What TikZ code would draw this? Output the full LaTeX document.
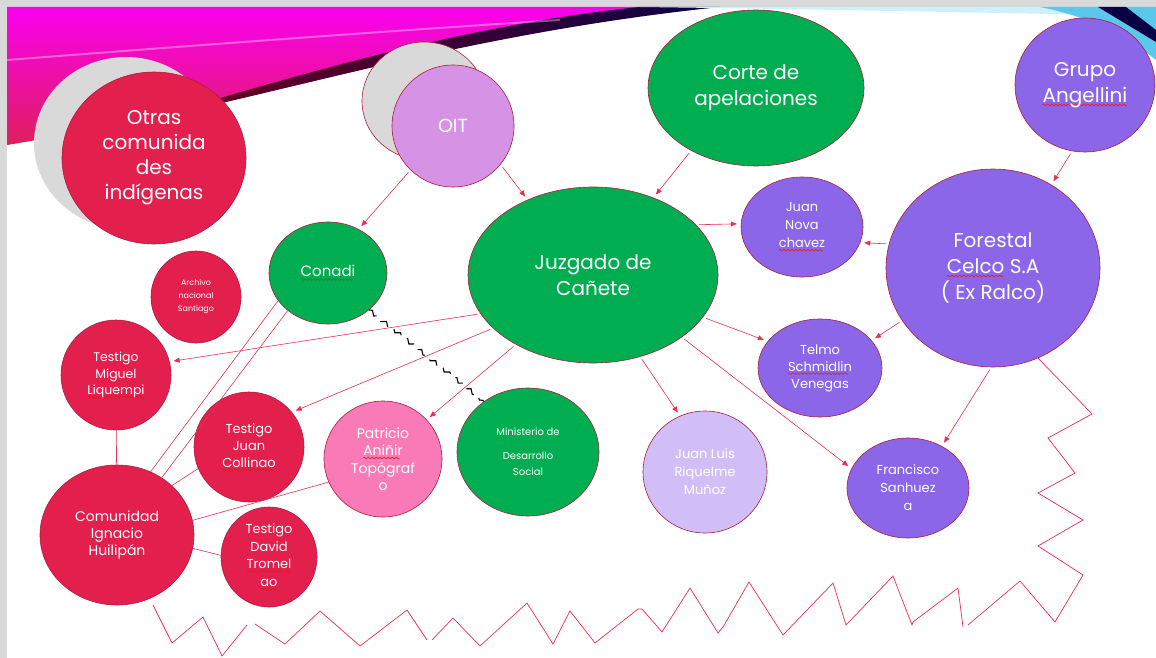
\documentclass[tikz,border=0pt]{standalone}
\usepackage{fontspec}
\setmainfont{Poppins}
\usetikzlibrary{arrows.meta,shapes.geometric,decorations.pathmorphing}

\definecolor{crimson}{RGB}{227,31,78}
\definecolor{leafgreen}{RGB}{0,173,80}
\definecolor{mauve}{RGB}{139,102,232}
\definecolor{orchid}{RGB}{214,146,228}
\definecolor{rosa}{RGB}{248,122,182}
\definecolor{lavanda}{RGB}{210,190,246}
\definecolor{sombra}{RGB}{217,217,217}
\definecolor{borde}{RGB}{170,30,60}
\definecolor{flecha}{RGB}{232,48,82}
\definecolor{spellred}{RGB}{235,20,20}
\definecolor{bannerpink}{RGB}{250,0,240}
\definecolor{bannerred}{RGB}{222,32,92}
\definecolor{bandred}{RGB}{110,0,30}
\definecolor{bandnavy}{RGB}{10,0,70}
\definecolor{skyband}{RGB}{205,240,250}
\definecolor{skycorner}{RGB}{90,200,235}

\newsavebox\wavebox
\newsavebox\wordbox
\newcommand\spell[1]{\sbox\wordbox{#1}\rlap{\raisebox{-3.5pt}{\hbox to\wd\wordbox{\leaders\copy\wavebox\hfill}}}\usebox\wordbox}
\newcommand\tsize[2]{\fontsize{#1}{#2}\selectfont}

\begin{document}
\sbox\wavebox{\begin{pgfpicture}
	\pgfpathrectangle{\pgfpoint{0pt}{-1pt}}{\pgfpoint{4pt}{2pt}}\pgfusepath{use as bounding box}
	\pgfsetlinewidth{0.5pt}\pgfsetstrokecolor{spellred}
	\pgfpathmoveto{\pgfpoint{0pt}{0pt}}
	\pgfpathsine{\pgfpoint{1pt}{0.9pt}}\pgfpathcosine{\pgfpoint{1pt}{-0.9pt}}
	\pgfpathsine{\pgfpoint{1pt}{-0.9pt}}\pgfpathcosine{\pgfpoint{1pt}{0.9pt}}
	\pgfusepath{stroke}
\end{pgfpicture}}
\begin{tikzpicture}[
		x=1pt, y=-1pt,
		bubble/.style={ellipse, draw=borde, line width=0.6pt, text=white, align=center, inner sep=-4pt},
		dims/.style 2 args={minimum width=#1pt, minimum height=#2pt},
		arrow/.style={-{Triangle[length=6pt, width=5pt]}, draw=flecha, line width=0.6pt, shorten >=4pt, shorten <=3pt},
		link/.style={draw=flecha, line width=0.6pt},
		sawline/.style={draw=flecha, line width=0.7pt},
		squiggle/.style={draw=black, line width=1.1pt, decorate, decoration={snake, amplitude=1.8pt, segment length=9pt}, dash pattern=on 12pt off 8pt},
	]
		\useasboundingbox (0,0) rectangle (1156,658);
		% slide frame and banner
		\fill[sombra] (0,0) rectangle (1156,658);
		\fill[white] (7,7) rectangle (1156,658);
		\shade[top color=bannerpink, bottom color=bannerred] (7,7) -- (660,7) .. controls (450,40) and (250,105) .. (7,145) -- cycle;
		\shade[left color=bandred, right color=bandnavy] (150,119) .. controls (300,88) and (480,32) .. (720,7) -- (640,7) .. controls (470,24) and (300,74) .. (150,119) -- cycle;
		\draw[white, line width=2pt, opacity=.35] (7,60) .. controls (200,45) and (400,30) .. (560,20);
		\fill[skyband] (640,7) -- (1156,7) -- (1156,16) .. controls (950,12) and (800,9) .. (640,7) -- cycle;
		\fill[skycorner] (1040,7) -- (1156,7) -- (1156,60) .. controls (1120,30) and (1080,15) .. (1040,7) -- cycle;
		\fill[bandnavy] (1098,7) -- (1126,7) -- (1156,30) -- (1156,42) -- cycle;

		% bubbles
		\node (otrasback) [bubble, draw=none, fill=sombra, dims={184}{172}] at (126,143) {};
		\node (otras) [bubble, fill=crimson, dims={184}{172}, font=\tsize{20}{25}] at (154,158) {Otras\\comunida\\des\\indígenas};
		\node (oitback) [bubble, fill=sombra, dims={124}{118}] at (424,101) {};
		\node (oit) [bubble, fill=orchid, dims={122}{122}, font=\tsize{19}{23}] at (453,126) {OIT};
		\node (corte) [bubble, fill=leafgreen, dims={216}{156}, font=\tsize{20}{26}] at (756,88) {Corte de\\apelaciones};
		\node (grupo) [bubble, fill=mauve, dims={140}{134}, font=\tsize{20}{26}] at (1085,85) {Grupo\\\spell{Angellini}};
		\node (juzgado) [bubble, fill=leafgreen, dims={250}{176}, font=\tsize{20}{26}] at (593,275) {Juzgado de\\Cañete};
		\node (nova) [bubble, fill=mauve, dims={122}{100}, font=\tsize{13}{18}] at (802,227) {Juan\\Nova\\\spell{chavez}};
		\node (forestal) [bubble, fill=mauve, dims={214}{198}, font=\tsize{20}{26}] at (993,268) {Forestal\\\spell{Celco} S.A\\( Ex Ralco)};
		\node (conadi) [bubble, fill=leafgreen, dims={118}{102}, font=\tsize{15}{18}] at (328,273) {\spell{Conadi}};
		\node (archivo) [bubble, fill=crimson, dims={90}{92}, font=\tsize{8}{13}] at (196,297) {Archivo\\nacional\\Santiago};
		\node (miguel) [bubble, fill=crimson, dims={110}{110}, font=\tsize{12.5}{16.5}] at (116,375) {Testigo\\Miguel\\\spell{Liquempi}};
		\node (collinao) [bubble, fill=crimson, dims={110}{110}, font=\tsize{13}{17}] at (249,447) {Testigo\\Juan\\\spell{Collinao}};
		\node (patricio) [bubble, fill=rosa, dims={118}{116}, font=\tsize{14}{17.5}] at (383,459) {Patricio\\\spell{Aniñir}\\Topógraf\\o};
		\node (ministerio) [bubble, fill=leafgreen, dims={142}{128}, font=\tsize{10}{16}] at (528,452) {Ministerio de\\[8pt]Desarrollo\\Social};
		\node (riquelme) [bubble, fill=lavanda, dims={124}{122}, font=\tsize{13}{18}] at (705,472) {Juan Luis\\Riquelme\\Muñoz};
		\node (telmo) [bubble, fill=mauve, dims={124}{98}, font=\tsize{13}{17}] at (820,368) {Telmo\\\spell{Schmidlin}\\Venegas};
		\node (francisco) [bubble, fill=mauve, dims={122}{100}, font=\tsize{13}{18}] at (908,488) {Francisco\\Sanhuez\\a};
		\node (comunidad) [bubble, fill=crimson, dims={154}{140}, font=\tsize{14}{17}] at (117,535) {Comunidad\\Ignacio\\Huilipán};
		\node (david) [bubble, fill=crimson, dims={96}{100}, font=\tsize{13}{17.5}] at (269,557) {Testigo\\David\\\spell{Tromel}\\\spell{ao}};

		% arrows
		\draw[arrow] (oit.226) -- (conadi.55);
		\draw[arrow] (oit.321) -- (juzgado.131);
		\draw[arrow] (corte.224) -- (juzgado.52);
		\draw[arrow] (grupo.259) -- (forestal.55);
		\draw[arrow] (juzgado.26) -- (nova.177);
		\draw[arrow] (forestal.167) -- (nova.345);
		\draw[arrow] (juzgado.199) -- (miguel.14);
		\draw[arrow] (juzgado.208) -- (collinao.39);
		\draw[arrow] (juzgado.222) -- (patricio.42);
		\draw[arrow] (juzgado.300) -- (riquelme.114);
		\draw[arrow] (juzgado.339) -- (telmo.153);
		\draw[arrow] (juzgado.325) -- (francisco.161);
		\draw[arrow] (forestal.210) -- (telmo.28);
		\draw[arrow] (forestal.269) -- (francisco.51);

		% plain links
		\draw[link] (conadi.209) -- (comunidad.62);
		\draw[link] (conadi.223) -- (comunidad.52);
		\draw[link] (collinao.203) -- (comunidad.42);
		\draw[link] (patricio.203) -- (comunidad.11);
		\draw[link] (david.178) -- (comunidad.350);
		\draw[link] (miguel) -- (comunidad);
		\draw[squiggle] (conadi.318) -- (ministerio.131);

		% zigzag border
		\draw[sawline] (153,605) -- (172,643) -- (203,617) -- (222,656) -- (247,625);
		\draw[sawline] (255,624) -- (285,644) -- (320,611) -- (360,646) -- (407,610) -- (427,640);
		\draw[sawline] (432,640) -- (453,618) -- (480,646) -- (527,603) -- (553,644) -- (570,611) -- (595,643) -- (638,609)
			-- (642,609) -- (662,632) -- (690,588) -- (718,633) -- (723,627) -- (749,582) -- (783,635) -- (833,583)
			-- (846,625) -- (893,576) -- (912,625) -- (913,622) -- (958,588) -- (963,627);
		\draw[sawline] (968,625) -- (1020,581) -- (1055,622) -- (1083,575) -- (1038,546) -- (1083,520) -- (1038,493)
			-- (1075,473) -- (1048,438) -- (1092,414) -- (1038,358);
	\end{tikzpicture}
\end{document}
